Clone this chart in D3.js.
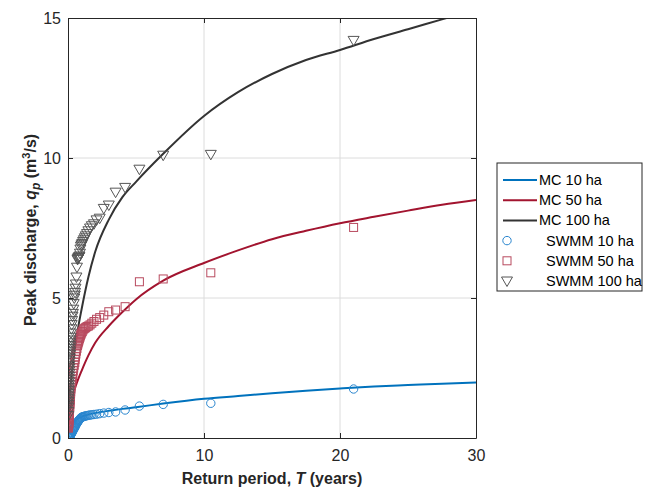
<!DOCTYPE html>
<html>
<head>
<meta charset="utf-8">
<script src="https://cdn.jsdelivr.net/npm/d3@7"></script>
<style>
  body { margin: 0; background: #fff; }
  svg { font-family: Arial, "Liberation Sans", Helvetica, sans-serif; }
</style>
</head>
<body>
<div id="chart"></div>
<script>
'use strict';
(function(){

	// Monte Carlo curves (return period in years, peak discharge m3/s)
	var mcPeriod = [0.02, 0.05, 0.1, 0.2, 0.3, 0.5, 0.75, 1, 1.5, 2, 3, 4, 5, 7, 10, 12.5, 15, 17.5, 20, 22.5, 25, 27.5, 30];
	var mc10  = [0.1, 0.2, 0.3, 0.42, 0.5, 0.61, 0.7, 0.76, 0.84, 0.89, 0.97, 1.04, 1.1, 1.23, 1.4, 1.5, 1.6, 1.69, 1.77, 1.84, 1.89, 1.94, 1.98];
	var mc50  = [0.3, 0.5, 0.75, 1.1, 1.35, 1.75, 2.1, 2.4, 2.95, 3.4, 4.0, 4.5, 4.95, 5.62, 6.25, 6.7, 7.1, 7.4, 7.67, 7.9, 8.12, 8.33, 8.5];
	var mc100 = [0.8, 1.05, 1.4, 1.95, 2.4, 3.15, 3.95, 4.6, 5.75, 6.65, 7.8, 8.6, 9.15, 10.15, 11.5, 12.35, 13.0, 13.5, 13.86, 14.25, 14.6, 14.95, 15.3];

	// SWMM simulated events, ranked (plotting positions)
	var swmmPeriod = [21, 10.5, 7, 5.25, 4.2, 3.5, 3.0, 2.63, 2.33, 2.1, 1.91, 1.75, 1.62, 1.5, 1.4, 1.31, 1.24, 1.17, 1.11, 1.05,
		1.0, 0.95, 0.91, 0.88, 0.84, 0.81, 0.78, 0.75, 0.72, 0.7,
		0.66, 0.62, 0.58, 0.55, 0.52, 0.5, 0.46, 0.42, 0.39, 0.36,
		0.33, 0.3, 0.27, 0.25, 0.22, 0.2, 0.19, 0.18, 0.17, 0.16,
		0.15, 0.14, 0.13, 0.12, 0.11, 0.1, 0.095, 0.09, 0.085, 0.08,
		0.075, 0.07, 0.065, 0.06, 0.055, 0.05, 0.045, 0.04, 0.035, 0.03,
		0.025, 0.02];
	var swmm10 = [1.75, 1.24, 1.2, 1.14, 1.0, 0.93, 0.91, 0.89, 0.87, 0.85, 0.84, 0.83, 0.82, 0.81, 0.8, 0.79, 0.78, 0.77, 0.76, 0.75,
		0.74, 0.72, 0.7, 0.68, 0.66, 0.64, 0.62, 0.6, 0.58, 0.56,
		0.53, 0.5, 0.47, 0.44, 0.41, 0.38, 0.35, 0.32, 0.29, 0.26,
		0.23, 0.2, 0.18, 0.16, 0.14, 0.12, 0.11, 0.1, 0.095, 0.09,
		0.085, 0.08, 0.075, 0.07, 0.065, 0.06, 0.055, 0.05, 0.05, 0.045,
		0.045, 0.04, 0.04, 0.035, 0.035, 0.03, 0.03, 0.025, 0.025, 0.02,
		0.02, 0.02];
	var swmm50 = [7.52, 5.9, 5.68, 5.58, 4.69, 4.57, 4.51, 4.39, 4.3, 4.24, 4.16, 4.1, 4.04, 4.0, 3.98, 3.95, 3.92, 3.9, 3.86, 3.8,
		3.75, 3.7, 3.65, 3.6, 3.55, 3.5, 3.45, 3.4, 3.35, 3.3,
		3.2, 3.1, 3.0, 2.9, 2.8, 2.7, 2.6, 2.5, 2.4, 2.3,
		2.2, 2.1, 2.0, 1.9, 1.75, 1.65, 1.58, 1.5, 1.42, 1.35,
		1.28, 1.2, 1.12, 1.05, 1.0, 0.95, 0.9, 0.85, 0.8, 0.75,
		0.7, 0.65, 0.6, 0.55, 0.52, 0.5, 0.47, 0.45, 0.42, 0.4,
		0.37, 0.35];
	var swmm100 = [14.2, 10.13, 10.1, 9.6, 8.95, 8.78, 8.32, 8.2, 7.85, 7.79, 7.65, 7.58, 7.5, 7.4, 7.3, 7.22, 7.15, 7.08, 7.02, 6.95,
		6.9, 6.85, 6.75, 6.6, 6.5, 6.47, 6.45, 6.43, 6.4, 6.38,
		6.1, 5.75, 5.5, 5.35, 5.2, 5.1, 5.0, 4.8, 4.6, 4.45,
		4.35, 4.2, 4.05, 3.9, 3.75, 3.6, 3.5, 3.4, 3.3, 3.2,
		3.1, 3.0, 2.85, 2.75, 2.6, 2.5, 2.4, 2.3, 2.2, 2.1,
		2.0, 1.9, 1.8, 1.7, 1.6, 1.5, 1.4, 1.3, 1.2, 1.1,
		0.95, 0.8];

	var xTicks = [0, 10, 20, 30];
	var yTicks = [0, 5, 10, 15];
	var legendNames = ['MC 10 ha', 'MC 50 ha', 'MC 100 ha', 'SWMM 10 ha', 'SWMM 50 ha', 'SWMM 100 ha'];

	var blue = '#0072BD', red = '#A2142F', dark = '#333333';
	var blueMk = '#2a86cf', redMk = '#b84a5f', darkMk = '#555555';

	var width = 645, height = 488;
	var left = 68, right = 476, top = 18, bottom = 438;

	var svg = d3.select('#chart')
		.append('svg')
		.attr('width', width)
		.attr('height', height);

	var x = d3.scaleLinear().domain([0, 30]).range([left, right]);
	var y = d3.scaleLinear().domain([0, 15]).range([bottom, top]);

	svg.append('clipPath').attr('id', 'plotclip')
		.append('rect')
		.attr('x', left).attr('y', top)
		.attr('width', right - left).attr('height', bottom - top);

	// grid
	var grid = svg.append('g').attr('stroke', '#dcdcdc').attr('stroke-width', 1);
	grid.selectAll('line.gx')
		.data(xTicks.slice(1, -1))
		.enter().append('line')
		.attr('x1', function (d) { return x(d); })
		.attr('x2', function (d) { return x(d); })
		.attr('y1', top).attr('y2', bottom);
	grid.selectAll('line.gy')
		.data(yTicks.slice(1, -1))
		.enter().append('line')
		.attr('y1', function (d) { return y(d); })
		.attr('y2', function (d) { return y(d); })
		.attr('x1', left).attr('x2', right);

	var plot = svg.append('g').attr('clip-path', 'url(#plotclip)');

	function zip(xs, ys) {
		return xs.map(function (t, i) { return [t, ys[i]]; });
	}

	var line = d3.line()
		.x(function (d) { return x(d[0]); })
		.y(function (d) { return y(d[1]); })
		.curve(d3.curveMonotoneX);

	[[mc10, blue], [mc50, red], [mc100, dark]].forEach(function (s) {
		plot.append('path')
			.datum(zip(mcPeriod, s[0]))
			.attr('d', line)
			.attr('fill', 'none')
			.attr('stroke', s[1])
			.attr('stroke-width', 2);
	});

	var triPath = 'M-5.5,-4 L5.5,-4 L0,5.5 Z';

	function drawMarkers(vals, color, kind) {
		var g = plot.append('g')
			.attr('fill', 'none')
			.attr('stroke', color)
			.attr('stroke-width', 1);
		var pts = zip(swmmPeriod, vals).reverse();
		if (kind === 'circle') {
			g.selectAll('circle').data(pts).enter().append('circle')
				.attr('cx', function (d) { return x(d[0]); })
				.attr('cy', function (d) { return y(d[1]); })
				.attr('r', 4.2);
		} else if (kind === 'square') {
			g.selectAll('rect').data(pts).enter().append('rect')
				.attr('x', function (d) { return x(d[0]) - 4; })
				.attr('y', function (d) { return y(d[1]) - 4; })
				.attr('width', 8).attr('height', 8);
		} else {
			g.selectAll('path').data(pts).enter().append('path')
				.attr('d', triPath)
				.attr('transform', function (d) { return 'translate(' + x(d[0]) + ',' + y(d[1]) + ')'; });
		}
	}

	drawMarkers(swmm10, blueMk, 'circle');
	drawMarkers(swmm50, redMk, 'square');
	drawMarkers(swmm100, darkMk, 'triangle');

	// axes (ticks inward, box on)
	var axisColor = '#262626';
	svg.append('g')
		.attr('transform', 'translate(0,' + bottom + ')')
		.call(d3.axisBottom(x).tickValues(xTicks).tickSizeInner(-5).tickSizeOuter(0).tickPadding(12));
	svg.append('g')
		.attr('transform', 'translate(' + left + ',0)')
		.call(d3.axisLeft(y).tickValues(yTicks).tickSizeInner(-5).tickSizeOuter(0).tickPadding(7));
	svg.append('g')
		.attr('transform', 'translate(0,' + top + ')')
		.call(d3.axisTop(x).tickValues(xTicks).tickSizeInner(-5).tickSizeOuter(0).tickFormat(''));
	svg.append('g')
		.attr('transform', 'translate(' + right + ',0)')
		.call(d3.axisRight(y).tickValues(yTicks).tickSizeInner(-5).tickSizeOuter(0).tickFormat(''));

	svg.selectAll('.domain').attr('stroke', axisColor);
	svg.selectAll('.tick line').attr('stroke', axisColor);
	svg.selectAll('.tick text')
		.attr('fill', '#262626')
		.style('font-size', '16px')
		.style('font-family', 'Arial, "Liberation Sans", sans-serif');

	// axis titles
	var xt = svg.append('text')
		.attr('x', (left + right) / 2)
		.attr('y', 484)
		.attr('text-anchor', 'middle')
		.attr('font-size', 16)
		.attr('font-weight', 'bold')
		.attr('fill', '#262626');
	xt.append('tspan').text('Return period, ');
	xt.append('tspan').attr('font-style', 'italic').text('T');
	xt.append('tspan').text(' (years)');

	var yt = svg.append('text')
		.attr('transform', 'translate(36,' + ((top + bottom) / 2 + 2) + ') rotate(-90)')
		.attr('text-anchor', 'middle')
		.attr('font-size', 16)
		.attr('font-weight', 'bold')
		.attr('fill', '#262626');
	yt.append('tspan').text('Peak discharge, ');
	yt.append('tspan').attr('font-style', 'italic').text('q');
	yt.append('tspan').attr('font-style', 'italic').attr('font-size', 12).attr('dy', 4).text('p');
	yt.append('tspan').attr('dy', -4).text(' (m');
	yt.append('tspan').attr('font-size', 11).attr('dy', -6).text('3');
	yt.append('tspan').attr('dy', 6).text('/s)');

	// legend
	var lg = svg.append('g').attr('transform', 'translate(497,163)');
	lg.append('rect')
		.attr('width', 145).attr('height', 128)
		.attr('fill', '#fff')
		.attr('stroke', '#262626')
		.attr('stroke-width', 1);

	var legendStyles = [
		{ color: blue, kind: 'line' },
		{ color: red, kind: 'line' },
		{ color: dark, kind: 'line' },
		{ color: blueMk, kind: 'circle' },
		{ color: redMk, kind: 'square' },
		{ color: darkMk, kind: 'triangle' }
	];

	legendNames.forEach(function (name, i) {
		var st = legendStyles[i];
		var ly = 17 + i * 20.2;
		var item = lg.append('g').attr('transform', 'translate(0,' + ly + ')');
		if (st.kind === 'line') {
			item.append('line')
				.attr('x1', 6).attr('x2', 40)
				.attr('stroke', st.color).attr('stroke-width', 2);
		} else if (st.kind === 'circle') {
			item.append('circle').attr('cx', 10).attr('r', 4.2)
				.attr('fill', 'none').attr('stroke', st.color);
		} else if (st.kind === 'square') {
			item.append('rect').attr('x', 6).attr('y', -4).attr('width', 8).attr('height', 8)
				.attr('fill', 'none').attr('stroke', st.color);
		} else {
			item.append('path').attr('d', triPath).attr('transform', 'translate(10,0)')
				.attr('fill', 'none').attr('stroke', st.color);
		}
		item.append('text')
			.attr('x', st.kind === 'line' ? 42 : 49)
			.attr('dy', '0.35em')
			.attr('font-size', 14.5)
			.attr('fill', '#000')
			.text(name);
	});

}());
</script>
</body>
</html>
